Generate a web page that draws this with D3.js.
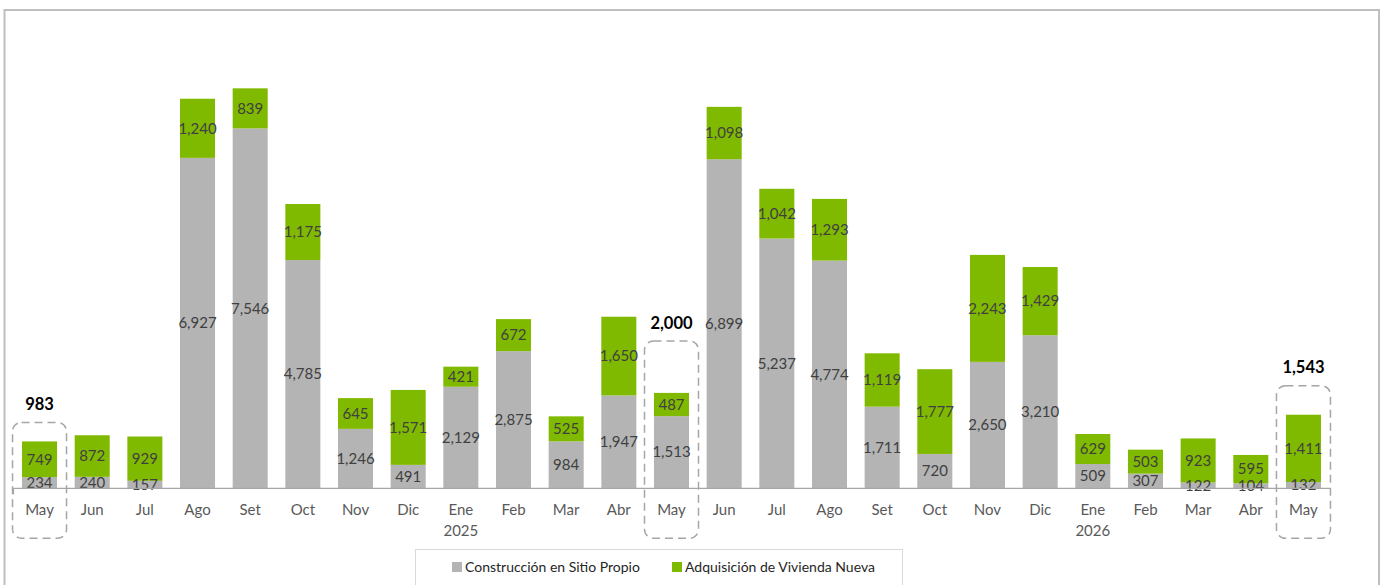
<!DOCTYPE html>
<html>
<head>
<meta charset="utf-8">
<script src="https://cdn.jsdelivr.net/npm/d3@7"></script>
<style>
  html, body { margin: 0; padding: 0; background: #fff; }
  svg { display: block; }
  text { font-family: Lato, "Open Sans", sans-serif; }
</style>
</head>
<body>
<svg id="chart" width="1384" height="585"></svg>
<script>
const months = ["May","Jun","Jul","Ago","Set","Oct","Nov","Dic","Ene","Feb","Mar","Abr","May","Jun","Jul","Ago","Set","Oct","Nov","Dic","Ene","Feb","Mar","Abr","May"];
const yearLabels = ["","","","","","","","","2025","","","","","","","","","","","","2026","","","",""];
const construccion = [234,240,157,6927,7546,4785,1246,491,2129,2875,984,1947,1513,6899,5237,4774,1711,720,2650,3210,509,307,122,104,132];
const adquisicion = [749,872,929,1240,839,1175,645,1571,421,672,525,1650,487,1098,1042,1293,1119,1777,2243,1429,629,503,923,595,1411];
const seriesNames = ["Construcción en Sitio Propio","Adquisición de Vivienda Nueva"];
const highlighted = [0, 12, 24];
const highlightLift = [19, 52, 29];

const colors = ["#b4b4b4", "#80ba00"];
const svg = d3.select("#chart");
const ids = months.map((m, i) => i);

const x = d3.scaleBand().domain(ids).range([13.2, 1329.8]).paddingInner(0.335).paddingOuter(0.1675);
const y = d3.scaleLinear().domain([0, 10000]).range([488.3, 11.3]);

// outer frame
svg.append("rect").attr("x", 4.5).attr("y", 10).attr("width", 1374.5).attr("height", 600)
  .attr("fill", "none").attr("stroke", "#bfbfbf").attr("stroke-width", 2);

const stackData = ids.map(i => ({i, c: construccion[i], a: adquisicion[i]}));
const stack = d3.stack().keys(["c", "a"])(stackData);

const g = svg.append("g");
stack.forEach((layer, li) => {
  g.selectAll(null).data(layer).enter().append("rect")
    .attr("x", d => x(d.data.i))
    .attr("width", x.bandwidth())
    .attr("y", d => y(d[1]))
    .attr("height", d => y(d[0]) - y(d[1]))
    .attr("fill", colors[li]);
});

// axis line
svg.append("line").attr("x1", 13.5).attr("x2", 1330).attr("y1", y(0)).attr("y2", y(0))
  .attr("stroke", "#a6a6a6").attr("stroke-width", 1.3);
svg.append("line").attr("x1", 13.5).attr("x2", 13.5).attr("y1", y(0)).attr("y2", y(0) + 6)
  .attr("stroke", "#a6a6a6").attr("stroke-width", 1.3);

// value labels
const fmt = d3.format(",");
stack.forEach((layer, li) => {
  g.selectAll(null).data(layer).enter().append("text")
    .attr("x", d => x(d.data.i) + x.bandwidth() / 2)
    .attr("y", d => (y(d[0]) + y(d[1])) / 2)
    .attr("dy", "0.35em")
    .attr("text-anchor", "middle")
    .attr("font-size", 15)
    .attr("fill", "#404040")
    .text(d => fmt(d[1] - d[0]));
});

// category labels
const xAxis = svg.append("g");
xAxis.selectAll(null).data(ids).enter().append("text")
  .attr("x", i => x(i) + x.bandwidth() / 2)
  .attr("y", 515)
  .attr("text-anchor", "middle").attr("font-size", 15).attr("fill", "#595959")
  .text(i => months[i]);
xAxis.selectAll(null).data(ids.filter(i => yearLabels[i])).enter().append("text")
  .attr("x", i => x(i) + x.bandwidth() / 2)
  .attr("y", 536)
  .attr("text-anchor", "middle").attr("font-size", 15).attr("fill", "#595959")
  .text(i => yearLabels[i]);

// highlight boxes and totals
highlighted.forEach((i, k) => {
  const cx = x(i) + x.bandwidth() / 2;
  const total = construccion[i] + adquisicion[i];
  const top = y(total) - highlightLift[k];
  svg.append("rect").attr("x", cx - 27).attr("y", top).attr("width", 54).attr("height", y(0) + 50 - top)
    .attr("rx", 9).attr("ry", 9).attr("fill", "none")
    .attr("stroke", "#a6a6a6").attr("stroke-width", 1.5).attr("stroke-dasharray", "8,5");
  svg.append("text").attr("x", cx).attr("y", top - 18).attr("dy", "0.35em")
    .attr("text-anchor", "middle").attr("font-size", 16.5).attr("font-weight", "bold").attr("fill", "#000")
    .text(fmt(total));
});

// legend
const lg = svg.append("g");
lg.append("rect").attr("x", 415.5).attr("y", 549.5).attr("width", 487).attr("height", 40)
  .attr("fill", "#fff").attr("stroke", "#d9d9d9").attr("stroke-width", 1);
const legendX = [452, 672];
seriesNames.forEach((name, k) => {
  lg.append("rect").attr("x", legendX[k]).attr("y", 562).attr("width", 10).attr("height", 10).attr("fill", colors[k]);
  lg.append("text").attr("x", legendX[k] + 13).attr("y", 567).attr("dy", "0.35em")
    .attr("font-size", 14).attr("fill", "#262626").text(name);
});
</script>
</body>
</html>
